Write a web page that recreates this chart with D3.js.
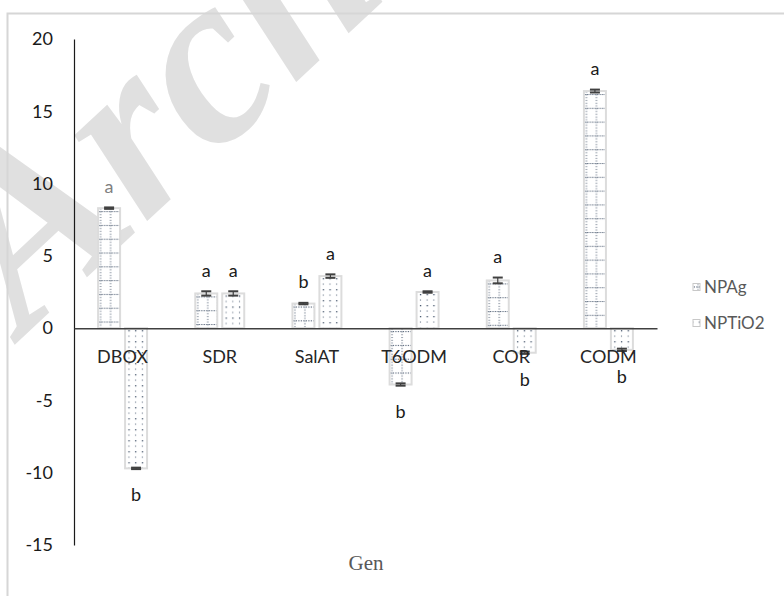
<!DOCTYPE html>
<html>
<head>
<meta charset="utf-8">
<script src="https://cdn.jsdelivr.net/npm/d3@7"></script>
<style>
  html, body { margin: 0; padding: 0; background: #fff; }
  svg { display: block; }
</style>
</head>
<body>
<svg id="chart" width="784" height="596"></svg>
<script>
// Gene expression change per gene under two nanoparticle treatments
const genes = ["DBOX", "SDR", "SalAT", "T6ODM", "COR", "CODM"];
const seriesNames = ["NPAg", "NPTiO2"];
const npAg = [8.3, 2.4, 1.7, -3.9, 3.3, 16.4];
const npTiO2 = [-9.7, 2.4, 3.6, 2.5, -1.7, -1.5];
const npAgErr = [0.05, 0.15, 0.05, 0.08, 0.2, 0.1];
const npTiO2Err = [0.05, 0.15, 0.12, 0.05, 0.08, 0.08];
const npAgLetters = ["a", "a", "b", "b", "a", "a"];
const npTiO2Letters = ["b", "a", "a", "a", "b", "b"];
const yTicks = [-15, -10, -5, 0, 5, 10, 15, 20];
const xTitle = "Gen";

const svg = d3.select("#chart");
const font = "Lato, 'Open Sans', sans-serif";

// Watermark behind the plot
svg.append("text")
  .attr("transform", "translate(24,336) rotate(-43)")
  .attr("font-family", "'Liberation Serif', 'DejaVu Serif', serif")
  .attr("font-style", "italic")
  .attr("font-weight", "bold")
  .attr("font-size", 245)
  .attr("fill", "#e0e0e0")
  .text("Archive of SID");

// Outer frame
svg.append("rect")
  .attr("x", 7.5).attr("y", 13.5)
  .attr("width", 800).attr("height", 620)
  .attr("fill", "none")
  .attr("stroke", "#d6d6d6")
  .attr("stroke-width", 2);

const x0 = d3.scaleBand().domain(genes).range([74, 657])
  .paddingInner(0.496).paddingOuter(0.248);
const x1 = d3.scaleBand().domain(seriesNames).range([0, x0.bandwidth()])
  .paddingInner(5 / 27);
const y = d3.scaleLinear().domain([-15, 20]).range([545, 39]);

const rows = [];
genes.forEach((g, i) => {
  rows.push({ gene: g, series: "NPAg", v: npAg[i], e: npAgErr[i], letter: npAgLetters[i], i });
  rows.push({ gene: g, series: "NPTiO2", v: npTiO2[i], e: npTiO2Err[i], letter: npTiO2Letters[i], i });
});

const defs = svg.append("defs");
const dotColor = "#44546a";

// Pattern fills, one per bar so the dot grid lines up with the bar edges
function addPattern(id, series, ox, oy) {
  if (series === "NPAg") {
    const p = defs.append("pattern").attr("id", id)
      .attr("patternUnits", "userSpaceOnUse")
      .attr("x", ox).attr("y", oy)
      .attr("width", 10).attr("height", 13.8);
    p.append("rect").attr("width", 10).attr("height", 13.8).attr("fill", "#fff");
    for (let k = 0; k < 5; k++) {
      p.append("rect").attr("x", 1.5).attr("y", k * 2.8 + 0.5)
        .attr("width", 1).attr("height", 1).attr("fill", dotColor);
    }
    for (let k = 0; k < 4; k++) {
      p.append("rect").attr("x", k * 2.5 + 0.3).attr("y", 3)
        .attr("width", 1.2).attr("height", 1).attr("fill", dotColor);
    }
  } else {
    const p = defs.append("pattern").attr("id", id)
      .attr("patternUnits", "userSpaceOnUse")
      .attr("x", ox).attr("y", oy)
      .attr("width", 6.7).attr("height", 11);
    p.append("rect").attr("width", 6.7).attr("height", 11).attr("fill", "#fff");
    p.append("rect").attr("x", 2.8).attr("y", 2)
      .attr("width", 1.3).attr("height", 1.3).attr("fill", dotColor);
    p.append("rect").attr("x", 2.8).attr("y", 7.5)
      .attr("width", 1.1).attr("height", 1.1).attr("fill", dotColor).attr("opacity", 0.8);
  }
}

const plot = svg.append("g");

rows.forEach((d, k) => {
  const bx = x0(d.gene) + x1(d.series);
  const by = Math.min(y(d.v), y(0));
  d.id = "pat" + k;
  addPattern(d.id, d.series, bx + 0.5, by);
});

// Bars
plot.selectAll("rect.bar").data(rows).join("rect")
  .attr("class", "bar")
  .attr("x", d => x0(d.gene) + x1(d.series))
  .attr("y", d => Math.min(y(d.v), y(0)))
  .attr("width", x1.bandwidth())
  .attr("height", d => Math.abs(y(d.v) - y(0)))
  .attr("fill", d => `url(#${d.id})`)
  .attr("stroke", "#dcdcdc")
  .attr("stroke-width", 2);

// Error bars
const errG = plot.selectAll("g.err").data(rows).join("g").attr("class", "err");
const cx = d => x0(d.gene) + x1(d.series) + x1.bandwidth() / 2;
errG.append("line")
  .attr("x1", cx).attr("x2", cx)
  .attr("y1", d => y(d.v - d.e))
  .attr("y2", d => y(d.v + d.e))
  .attr("stroke", "#404040").attr("stroke-width", 1.2);
[1, -1].forEach(sgn => {
  errG.append("line")
    .attr("x1", d => cx(d) - 5)
    .attr("x2", d => cx(d) + 5)
    .attr("y1", d => y(d.v + sgn * d.e))
    .attr("y2", d => y(d.v + sgn * d.e))
    .attr("stroke", "#404040").attr("stroke-width", 2);
});

// Axes
const yAxis = d3.axisLeft(y).tickValues(yTicks).tickSize(0).tickPadding(21)
  .tickFormat(d => String(d));
const gy = svg.append("g").attr("transform", "translate(74,0)").call(yAxis);
gy.select(".domain").attr("stroke", "#1a1a1a").attr("stroke-width", 1.2);
gy.selectAll("text").attr("font-family", font).attr("font-size", 18)
  .attr("fill", "#1a1a1a");

const gx = svg.append("g").attr("transform", `translate(0,${y(0)})`)
  .call(d3.axisBottom(x0).tickSize(0).tickPadding(22));
gx.select(".domain").attr("stroke", "#404040").attr("stroke-width", 1.5);
gx.selectAll("text").attr("font-family", font).attr("font-size", 18)
  .attr("fill", "#262626");

// Significance letters
plot.selectAll("text.letter").data(rows).join("text")
  .attr("class", "letter")
  .attr("x", cx)
  .attr("y", d => d.v >= 0 ? y(d.v + d.e) - 21 : y(d.v - d.e) + 26)
  .attr("dy", "0.35em")
  .attr("text-anchor", "middle")
  .attr("font-family", font).attr("font-size", 18)
  .attr("fill", d => (d.gene === "DBOX" && d.series === "NPAg") ? "#808080" : "#1a1a1a")
  .text(d => d.letter);

// Axis title
svg.append("text")
  .attr("x", 366).attr("y", 563).attr("dy", "0.35em")
  .attr("text-anchor", "middle")
  .attr("font-family", "'Liberation Serif', 'Times New Roman', serif")
  .attr("font-size", 21)
  .attr("fill", "#595959")
  .text(xTitle);

// Legend
const legend = svg.append("g").attr("transform", "translate(693,0)");
const legY = [287, 323];
seriesNames.forEach((s, i) => {
  addPattern("leg" + i, s, 693, legY[i] - 3.5);
  legend.append("rect")
    .attr("x", 0).attr("y", legY[i] - 3.5)
    .attr("width", 7).attr("height", 7)
    .attr("fill", `url(#leg${i})`)
    .attr("stroke", "#c8c8c8").attr("stroke-width", 1);
  legend.append("text")
    .attr("x", 11).attr("y", legY[i]).attr("dy", "0.35em")
    .attr("font-family", font).attr("font-size", 17)
    .attr("fill", "#595959")
    .text(s);
});
</script>
</body>
</html>
